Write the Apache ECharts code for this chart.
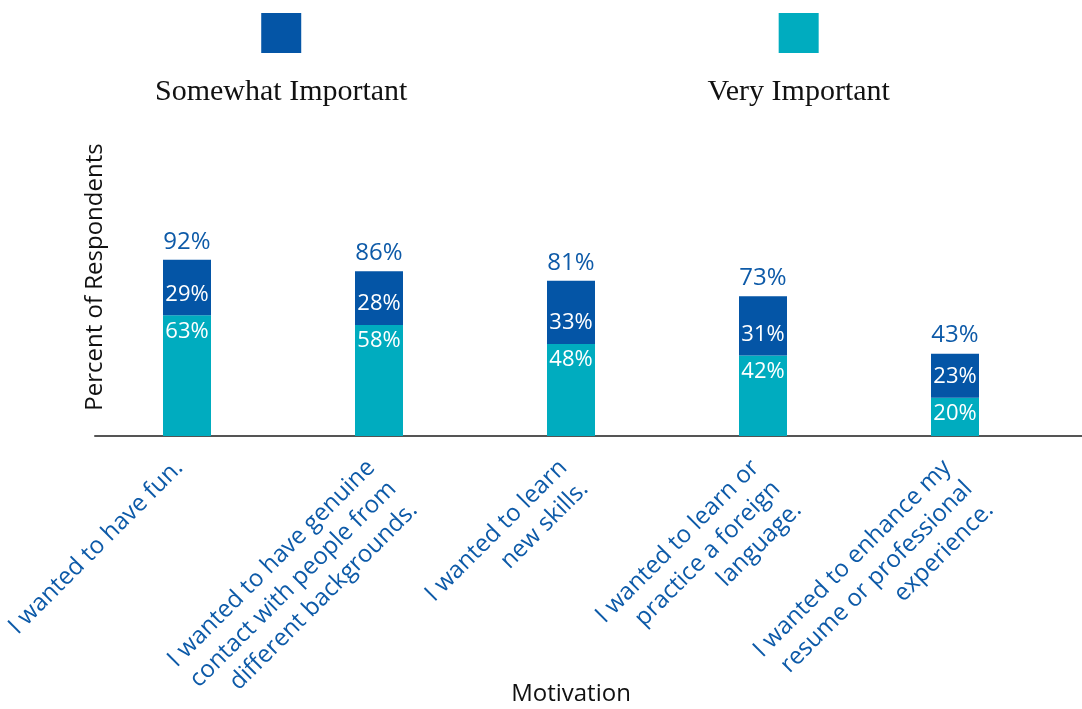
<!DOCTYPE html>
<html>
<head>
<meta charset="utf-8">
<title>Motivation</title>
<script src="https://cdn.jsdelivr.net/npm/echarts@6/dist/echarts.min.js"></script>
<style>
  html, body { margin: 0; padding: 0; background: #ffffff; }
  #chart { width: 1082px; height: 709px; }
</style>
</head>
<body>
<div id="chart"></div>
<script>
// Survey answers: share of respondents per motivation
const categories = [
  'I wanted to have fun.',
  'I wanted to have genuine\ncontact with people from\ndifferent backgrounds.',
  'I wanted to learn\nnew skills.',
  'I wanted to learn or\npractice a foreign\nlanguage.',
  'I wanted to enhance my\nresume or professional\nexperience.'
];
const veryImportant = [63, 58, 48, 42, 20];
const somewhatImportant = [29, 28, 33, 31, 23];
const totals = [92, 86, 81, 73, 43];

const seriesNames = ['Somewhat Important', 'Very Important'];

const DARK = '#0455a6';
const TEAL = '#00acbf';
const LABEL_BLUE = '#0d5aa8';
const SANS = '"Open Sans", "Noto Sans", sans-serif';
const SERIF = '"Liberation Serif", "DejaVu Serif", serif';

const chart = echarts.init(document.getElementById('chart'), null, { renderer: 'canvas' });

const pct = p => p.value + '%';

chart.setOption({
  animation: false,
  backgroundColor: '#ffffff',
  legend: {
    data: seriesNames,
    top: 8,
    left: 145,
    icon: 'none',
    itemWidth: 0,
    itemHeight: 0,
    itemGap: 295,
    formatter: name => (name === seriesNames[0] ? '{sw|}' : '{vi|}') + '\n{t|' + name + '}',
    textStyle: {
      rich: {
        sw: { width: 40, height: 40, lineHeight: 40, backgroundColor: DARK, align: 'center' },
        vi: { width: 40, height: 40, lineHeight: 40, backgroundColor: TEAL, align: 'center' },
        t: { fontFamily: SERIF, fontSize: 30, color: '#111111', lineHeight: 78, align: 'center' }
      }
    }
  },
  grid: [
    { left: 91, right: 31, top: 118, bottom: 273, outerBoundsMode: 'none' },
    { left: 95, right: 0, top: 435, bottom: 273, outerBoundsMode: 'none' }
  ],
  xAxis: [
    {
      type: 'category',
      gridIndex: 0,
      data: categories,
      axisLine: { show: false },
      axisTick: { show: false },
      axisLabel: {
        interval: 0,
        rotate: 45,
        align: 'right',
        verticalAlign: 'top',
        margin: -11,
        padding: [7, 33, 0, 0],
        lineHeight: 30,
        fontSize: 24,
        fontFamily: SANS,
        color: LABEL_BLUE
      },
      name: 'Motivation',
      nameLocation: 'middle',
      nameGap: 246,
      nameMoveOverlap: false,
      nameTextStyle: { fontSize: 24, fontFamily: SANS, color: '#111111' }
    },
    {
      // baseline running the full width under the bars
      type: 'value',
      gridIndex: 1,
      min: 0,
      max: 1,
      position: 'bottom',
      axisLine: { show: true, onZero: false, lineStyle: { color: '#555555', width: 2 } },
      axisTick: { show: false },
      axisLabel: { show: false },
      splitLine: { show: false }
    }
  ],
  yAxis: [
    {
      type: 'value',
      gridIndex: 0,
      min: 0,
      max: 166,
      axisLine: { show: false },
      axisTick: { show: false },
      axisLabel: { show: false },
      splitLine: { show: false },
      name: 'Percent of Respondents',
      nameLocation: 'middle',
      nameRotate: 90,
      nameGap: -16,
      nameMoveOverlap: false,
      nameTextStyle: { fontSize: 24, fontFamily: SANS, color: '#111111' }
    },
    {
      type: 'value',
      gridIndex: 1,
      min: 0,
      max: 1,
      show: false
    }
  ],
  series: [
    {
      name: 'Very Important',
      type: 'bar',
      stack: 'share',
      data: veryImportant,
      barWidth: 48,
      barGap: '-100%',
      itemStyle: { color: TEAL },
      label: {
        show: true,
        position: 'insideTop',
        distance: 5,
        formatter: pct,
        fontSize: 22,
        fontFamily: SANS,
        color: '#ffffff'
      }
    },
    {
      name: 'Somewhat Important',
      type: 'bar',
      stack: 'share',
      data: somewhatImportant,
      barWidth: 48,
      barGap: '-100%',
      itemStyle: { color: DARK },
      label: {
        show: true,
        position: 'insideBottom',
        distance: 10,
        formatter: pct,
        fontSize: 22,
        fontFamily: SANS,
        color: '#ffffff'
      }
    },
    {
      name: 'Total',
      type: 'bar',
      data: totals,
      barWidth: 48,
      barGap: '-100%',
      z: 1,
      silent: true,
      itemStyle: { color: 'rgba(0,0,0,0)' },
      label: {
        show: true,
        position: 'top',
        distance: 6,
        formatter: pct,
        fontSize: 24,
        fontFamily: SANS,
        color: LABEL_BLUE
      }
    }
  ]
});
</script>
</body>
</html>
